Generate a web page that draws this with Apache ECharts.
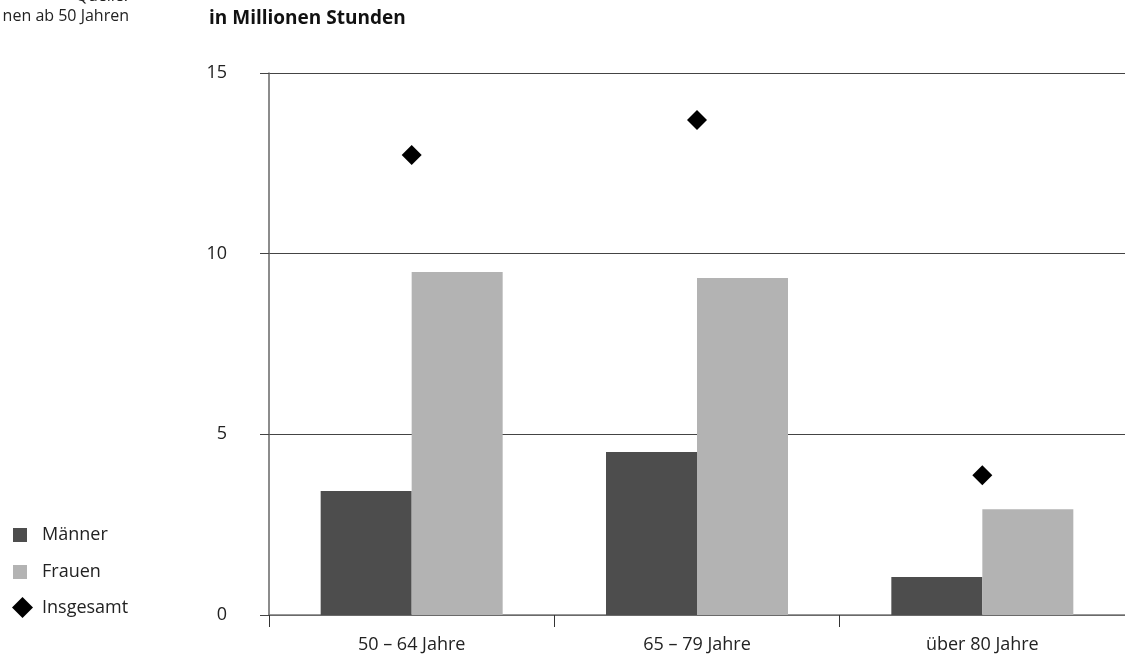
<!DOCTYPE html>
<html><head><meta charset="utf-8">
<script src="https://cdn.jsdelivr.net/npm/echarts@6/dist/echarts.min.js"></script>
<style>html,body{margin:0;padding:0;background:#fff}#c{width:1125px;height:659px}</style>
</head><body><div id="c"></div>
<script>
const categories = ['50 – 64 Jahre', '65 – 79 Jahre', 'über 80 Jahre'];
const maenner = [3.43, 4.51, 1.05];
const frauen = [9.49, 9.33, 2.93];
const insgesamt = [12.73, 13.7, 3.87];
const yTicks = [0, 5, 10, 15];
const font = 'Open Sans';

const legendText = {fontSize: 18, color: '#222', fontFamily: font};
const chart = echarts.init(document.getElementById('c'));
chart.setOption({
  animation: false,
  textStyle: {fontFamily: font},
  grid: {left: 269, right: 0, top: 73, bottom: 44},
  graphic: [
    {type: 'text', left: 209, top: 9, style: {text: 'in Millionen Stunden', fontSize: 19, fontWeight: 'bold', fontFamily: font, fill: '#111'}},
    {type: 'text', right: 996, top: 8, style: {text: 'nen ab 50 Jahren', fontSize: 16, fontFamily: font, fill: '#222'}},
    {type: 'text', right: 997, top: -12, style: {text: 'Quelle:', fontSize: 16, fontFamily: font, fill: '#222'}}
  ],
  legend: [
    {orient: 'vertical', left: 8, top: 521, itemWidth: 14, itemHeight: 14,
     data: [{name: 'Männer', icon: 'rect'}],
     textStyle: Object.assign({padding: [0, 0, 0, 10]}, legendText)},
    {orient: 'vertical', left: 8, top: 558, itemWidth: 14, itemHeight: 14,
     data: [{name: 'Frauen', icon: 'rect'}],
     textStyle: Object.assign({padding: [0, 0, 0, 10]}, legendText)},
    {orient: 'vertical', left: 7, top: 592, itemWidth: 21, itemHeight: 21,
     data: [{name: 'Insgesamt', icon: 'diamond'}],
     textStyle: Object.assign({padding: [0, 0, 0, 4]}, legendText)}
  ],
  xAxis: {
    type: 'category', data: categories, boundaryGap: true,
    axisLine: {lineStyle: {color: '#777', width: 1.5}},
    axisTick: {show: true, length: 12, lineStyle: {color: '#333'}},
    axisLabel: {fontSize: 18, color: '#222', margin: 21, fontFamily: font}
  },
  yAxis: {
    type: 'value', min: 0, max: 15, interval: 5,
    axisLine: {show: true, lineStyle: {color: '#666', width: 1.5}},
    axisTick: {show: true, length: 9, lineStyle: {color: '#444'}},
    axisLabel: {fontSize: 18, color: '#222', margin: 42, padding: [5, 0, 0, 0], fontFamily: font, formatter: v => yTicks.includes(v) ? String(v) : ''},
    splitLine: {show: true, lineStyle: {color: '#444', width: 1}}
  },
  series: [
    {name: 'Männer', type: 'bar', data: maenner, barWidth: 91, barGap: '0%', itemStyle: {color: '#4d4d4d'}},
    {name: 'Frauen', type: 'bar', data: frauen, barWidth: 91, barGap: '0%', itemStyle: {color: '#b3b3b3'}},
    {name: 'Insgesamt', type: 'scatter', data: insgesamt, symbol: 'diamond', symbolSize: 20, itemStyle: {color: '#000', opacity: 1}, z: 5}
  ]
});
</script></body></html>
